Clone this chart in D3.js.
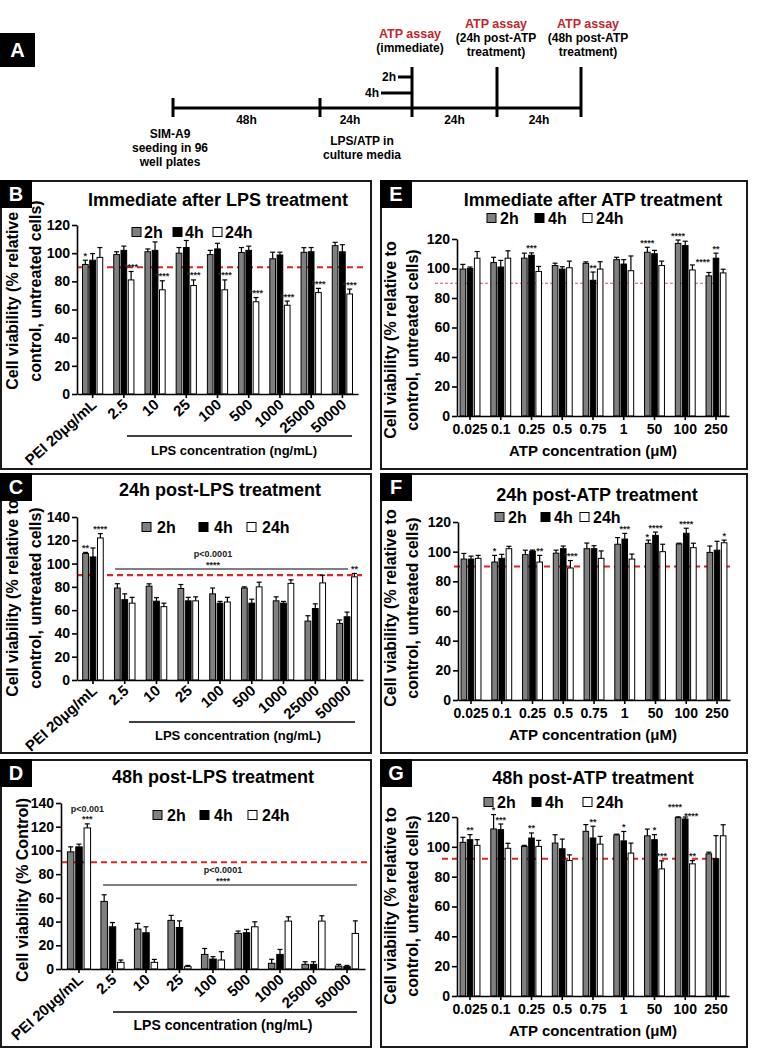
<!DOCTYPE html>
<html>
<head>
<meta charset="utf-8">
<script src="https://cdn.jsdelivr.net/npm/d3@7"></script>
<style>
  body { margin: 0; background: #fff; }
  svg text { font-family: Arial, "Liberation Sans", sans-serif; font-weight: bold; fill: #000; }
</style>
</head>
<body>
<script>
// ---------- data ----------
var lpsDoses = ["PEI 20\u03bcg/mL", "2.5", "10", "25", "100", "500", "1000", "25000", "50000"];
var atpDoses = ["0.025", "0.1", "0.25", "0.5", "0.75", "1", "50", "100", "250"];
var times = ["2h", "4h", "24h"];

// rows = dose, columns = 2h, 4h, 24h
var bMean = [[92, 95, 97], [99, 102, 81], [101, 102, 74], [100, 104, 77], [99, 103, 74], [100.5, 102, 65.5], [96, 98.7, 63], [100.6, 101, 72], [105.3, 101, 71]];
var bErr  = [[3, 4.7, 7], [2, 3, 6], [2, 6, 6.4], [4, 5, 4], [3, 4, 7], [3.5, 3, 3], [4.7, 2, 3], [3.3, 3, 3], [2.4, 5, 3.5]];
var bSig  = [["*", "", ""], ["", "", "****"], ["", "", "****"], ["", "", "****"], ["", "", "****"], ["", "", "****"], ["", "", "****"], ["", "", "****"], ["", "", "****"]];

var cMean = [[108.6, 105.7, 122], [79, 69, 66], [80.6, 67.7, 63], [78.6, 68, 68], [74, 66, 67], [79, 66, 80], [68, 66, 83], [50.6, 61.4, 83.4], [48.6, 54.3, 88.6]];
var cErr  = [[1, 7.7, 3.7], [3.7, 5, 5], [2, 3, 3], [3.4, 3, 3.4], [5, 1.5, 4], [1, 3.4, 4], [3.4, 1.5, 3], [4.6, 4, 6.6], [3, 4, 2.9]];
var cSig  = [["**", "", "****"], ["", "", ""], ["", "", ""], ["", "", ""], ["", "", ""], ["", "", ""], ["", "", ""], ["", "", ""], ["", "", "**"]];

var dMean = [[98.8, 103, 119], [57, 35.6, 5.6], [33.7, 30.6, 5.6], [41, 35, 2], [12.3, 8.4, 7.6], [30, 30.6, 35.6], [4.8, 12.3, 40.4], [3.9, 3.9, 40.4], [2.5, 2, 30]];
var dErr  = [[4.2, 2.3, 3.4], [5.6, 3.6, 2], [4.8, 5, 2.5], [4.2, 5.6, 1], [5, 2, 7], [2, 2.8, 4.2], [3.4, 4.2, 3.6], [2.2, 2.2, 4.5], [1.4, 1, 10.6]];
var dSig  = [["", "", "***"], ["", "", ""], ["", "", ""], ["", "", ""], ["", "", ""], ["", "", ""], ["", "", ""], ["", "", ""], ["", "", ""]];

var eMean = [[99.6, 100, 107], [104, 101, 107], [107, 109, 98], [102, 99.6, 100.5], [103.5, 92, 99.6], [106, 103, 98.5], [111, 110, 102], [117, 115.5, 99], [95, 107, 97]];
var eErr  = [[3.2, 1, 4.5], [3.6, 4.5, 5], [3.4, 1.6, 3.4], [1.6, 1.6, 4.5], [1, 5.6, 5], [1.6, 3, 10], [3.4, 2.3, 3], [2.3, 3, 3.4], [2.3, 3.4, 2.5]];
var eSig  = [["", "", ""], ["", "", ""], ["", "***", ""], ["", "", ""], ["", "**", ""], ["", "", ""], ["****", "", ""], ["****", "", ""], ["****", "**", ""]];

var fMean = [[95, 95, 95.5], [93, 95.5, 102], [98, 100.4, 93], [99, 102, 89], [102, 102, 95.5], [105, 108.5, 95], [105.6, 111, 100], [105.2, 112.4, 102.7], [99.5, 101, 106]];
var fErr  = [[3.8, 2, 2], [4.5, 2.7, 1.6], [3, 0.7, 4.5], [2, 1.8, 5], [3.8, 2, 5], [4.5, 3.8, 3.4], [2.2, 2.2, 5], [0.5, 3.4, 3], [4.3, 6, 1.8]];
var fSig  = [["", "", ""], ["*", "", ""], ["", "", "**"], ["", "", "****"], ["", "", ""], ["", "***", ""], ["*", "****", ""], ["", "****", ""], ["", "", "*"]];

var gMean = [[103, 104.8, 101], [112, 111.5, 99], [100.3, 105.9, 100.3], [102.5, 98.7, 90.8], [110.4, 105.9, 101.8], [108, 104, 95.8], [107.4, 104.8, 85.2], [119.6, 118.7, 88.6], [95.3, 92, 107.4]];
var gErr  = [[3.4, 3.4, 3.8], [9.6, 3.8, 3.4], [0.7, 3.4, 4], [5.6, 6.5, 3.8], [4.5, 7.9, 5.2], [0.5, 6.3, 6.7], [4.5, 3.4, 5.4], [0.5, 1.3, 2.2], [1.1, 15.5, 7.4]];
var gSig  = [["", "**", ""], ["*", "***", ""], ["", "**", ""], ["", "", ""], ["", "**", ""], ["", "*", ""], ["", "*", "***"], ["****", "****", "**"], ["", "", ""]];

// timeline (panel A)
var stageHours = [0, 48, 72, 96, 120];
var stageGaps = ["48h", "24h", "24h", "24h"];

var fills = ["#808080", "#000000", "#ffffff"];
var yTitle2 = ["Cell viability (% relative to", "control, untreated cells)"];

var svg = d3.select("body").append("svg").attr("width", 758).attr("height", 1049);

// ---------- panel A: timeline ----------
function drawTimeline() {
  var g = svg.append("g");
  var hx = d3.scaleLinear().domain(stageHours).range([173, 320, 412, 497, 581]);
  var lineY = 108;
  g.append("rect").attr("x", 0).attr("y", 33).attr("width", 35).attr("height", 34).attr("fill", "#000");
  g.append("text").attr("x", 17.5).attr("y", 57).attr("text-anchor", "middle").attr("font-size", 20).style("fill", "#fff").text("A");

  g.append("line").attr("x1", hx(0)).attr("x2", hx(120)).attr("y1", lineY).attr("y2", lineY)
    .attr("stroke", "#000").attr("stroke-width", 3);
  stageHours.forEach(function (h, i) {
    g.append("line").attr("x1", hx(h)).attr("x2", hx(h))
      .attr("y1", i < 2 ? 98 : 67).attr("y2", 117)
      .attr("stroke", "#000").attr("stroke-width", 3);
  });
  stageGaps.forEach(function (t, i) {
    var mid = (hx(stageHours[i]) + hx(stageHours[i + 1])) / 2 + (i == 1 ? -16 : 0);
    g.append("text").attr("x", mid).attr("y", 124).attr("text-anchor", "middle").attr("font-size", 12).text(t);
  });
  // 2h / 4h branches before the immediate assay
  [["2h", 14, 77], ["4h", 31, 93]].forEach(function (b) {
    g.append("line").attr("x1", hx(72) - b[1]).attr("x2", hx(72)).attr("y1", b[2]).attr("y2", b[2])
      .attr("stroke", "#000").attr("stroke-width", 3);
    g.append("text").attr("x", hx(72) - b[1] - 2).attr("y", b[2]).attr("dy", "0.35em")
      .attr("text-anchor", "end").attr("font-size", 12).text(b[0]);
  });
  var assays = [[72, -2, ["(immediate)"], 34], [96, -1, ["(24h post-ATP", "treatment)"], 24], [120, 7, ["(48h post-ATP", "treatment)"], 24]];
  assays.forEach(function (a) {
    var cx = hx(a[0]) + a[1];
    g.append("text").attr("x", cx).attr("y", a[3]).attr("dy", "0.35em").attr("text-anchor", "middle")
      .attr("font-size", 12.5).style("fill", "#c0262d").text("ATP assay");
    a[2].forEach(function (t, k) {
      g.append("text").attr("x", cx).attr("y", a[3] + 14 * (k + 1)).attr("dy", "0.35em")
        .attr("text-anchor", "middle").attr("font-size", 12).text(t);
    });
  });
  ["SIM-A9", "seeding in 96", "well plates"].forEach(function (t, k) {
    g.append("text").attr("x", 170).attr("y", 134 + 14 * k).attr("dy", "0.35em").attr("text-anchor", "middle").attr("font-size", 12).text(t);
  });
  ["LPS/ATP in", "culture media"].forEach(function (t, k) {
    g.append("text").attr("x", 362).attr("y", 141 + 14 * k).attr("dy", "0.35em").attr("text-anchor", "middle").attr("font-size", 12).text(t);
  });
}

// ---------- bar panels ----------
function styleAxis(sel, size) {
  sel.attr("font-family", null).attr("font-size", size);
  sel.select(".domain").attr("stroke", "#000").attr("stroke-width", 1.6);
  sel.selectAll(".tick line").attr("stroke", "#000").attr("stroke-width", 1.6);
}

function drawPanel(p) {
  var f = p.frame;
  var g = svg.append("g");
  g.append("rect").attr("x", f[0] + 1).attr("y", f[1] + 1).attr("width", f[2] - f[0] - 2).attr("height", f[3] - f[1] - 2)
    .attr("fill", "none").attr("stroke", "#1a1a1a").attr("stroke-width", 2);
  g.append("text").attr("x", p.title[0]).attr("y", p.title[1]).attr("dy", "0.35em").attr("text-anchor", "middle")
    .attr("font-size", 18).text(p.title[2]);

  var x = d3.scaleBand().domain(p.cats).range(p.xr).paddingInner(p.pin).paddingOuter(p.pout);
  var xs = d3.scaleBand().domain(times).range([0, x.bandwidth()]).padding(0.22);
  var y = d3.scaleLinear().domain([0, p.ymax]).range(p.yr);

  // legend
  times.forEach(function (t, j) {
    g.append("rect").attr("x", p.legend.xs[j]).attr("y", p.legend.y - 4.5).attr("width", 9).attr("height", 9)
      .attr("fill", fills[j]).attr("stroke", "#000").attr("stroke-width", 1);
    g.append("text").attr("x", p.legend.xs[j] + p.legend.gap).attr("y", p.legend.y).attr("dy", "0.36em")
      .attr("font-size", 16).text(t);
  });

  // y title
  p.ytitle.lines.forEach(function (t, k) {
    g.append("text").attr("transform", "translate(" + p.ytitle.xs[k] + "," + p.ytitle.cy + ") rotate(-90)")
      .attr("text-anchor", "middle").attr("dy", "0.35em").attr("font-size", 16).text(t);
  });

  // reference line
  g.append("line").attr("x1", p.ref.x1).attr("x2", p.ref.x2).attr("y1", y(p.ref.v)).attr("y2", y(p.ref.v))
    .attr("stroke", p.ref.color || "#e02424").attr("stroke-width", p.ref.w).attr("stroke-dasharray", p.ref.dash);

  var nudge = {};
  (p.nudge || []).forEach(function (n) { nudge[n[0] + "," + n[1]] = [n[2], n[3]]; });

  // bars
  p.cats.forEach(function (c, i) {
    times.forEach(function (t, j) {
      var m = p.mean[i][j], e = p.err[i][j];
      var bx = x(c) + xs(t), bw = xs.bandwidth(), cx = bx + bw / 2;
      g.append("line").attr("x1", cx).attr("x2", cx).attr("y1", y(m)).attr("y2", y(m + e))
        .attr("stroke", "#000").attr("stroke-width", 1.2);
      g.append("line").attr("x1", cx - 2.5).attr("x2", cx + 2.5).attr("y1", y(m + e)).attr("y2", y(m + e))
        .attr("stroke", "#000").attr("stroke-width", 1.2);
      g.append("rect").attr("x", bx).attr("y", y(m)).attr("width", bw).attr("height", y(0) - y(m))
        .attr("fill", fills[j]).attr("stroke", "#000").attr("stroke-width", 1);
      if (p.sig[i][j]) {
        var nd = nudge[i + "," + j] || [0, 0];
        g.append("text").attr("x", cx + nd[0]).attr("y", y(m + e) - 1.5 + nd[1]).attr("text-anchor", "middle")
          .attr("font-size", 9).style("fill", "#222").text(p.sig[i][j]);
      }
    });
  });
  (p.notes || []).forEach(function (n) {
    var c = p.cats[n[1]], t = times[n[2]];
    var cx = x(c) + xs(t) + xs.bandwidth() / 2;
    g.append("text").attr("x", cx).attr("y", y(p.mean[n[1]][n[2]] + p.err[n[1]][n[2]]) + n[3])
      .attr("text-anchor", "middle").attr("font-size", 9).style("fill", "#222").text(n[0]);
  });

  // axes
  var ya = g.append("g").attr("transform", "translate(" + p.xr[0] + ",0)")
    .call(d3.axisLeft(y).tickValues(d3.range(0, p.ymax + 1, 20)).tickSize(5).tickSizeOuter(0).tickPadding(2));
  styleAxis(ya, 14);
  var xa = g.append("g").attr("transform", "translate(0," + p.yr[0] + ")")
    .call(d3.axisBottom(x).tickSize(4).tickSizeOuter(0).tickPadding(4));
  if (p.rotate) {
    styleAxis(xa, 15);
    xa.selectAll(".tick text").attr("x", 0).attr("y", 0).attr("dy", 0)
      .attr("text-anchor", "end").attr("transform", "translate(5,12) rotate(-42)");
  } else {
    styleAxis(xa, 14);
  }

  // significance bracket
  if (p.bracket) {
    var b = p.bracket;
    g.append("line").attr("x1", b.x1).attr("x2", b.x2).attr("y1", b.y).attr("y2", b.y).attr("stroke", "#000").attr("stroke-width", 1.2);
    g.append("text").attr("x", b.tx).attr("y", b.y - 12).attr("text-anchor", "middle").attr("font-size", 9).style("fill", "#222").text("p<0.0001");
    g.append("text").attr("x", b.tx).attr("y", b.y - 1.5).attr("text-anchor", "middle").attr("font-size", 9).style("fill", "#222").text("****");
  }

  // x title
  if (p.xline) {
    g.append("line").attr("x1", p.xline[0]).attr("x2", p.xline[1]).attr("y1", p.xline[2]).attr("y2", p.xline[2])
      .attr("stroke", "#000").attr("stroke-width", 1.3);
  }
  g.append("text").attr("x", p.xtitle[1]).attr("y", p.xtitle[2]).attr("dy", "0.35em").attr("text-anchor", "middle")
    .attr("font-size", p.xtitle[3]).text(p.xtitle[0]);

  // panel letter box drawn last so it sits on top
  g.append("rect").attr("x", f[0]).attr("y", f[1]).attr("width", 32).attr("height", 28).attr("fill", "#000");
  g.append("text").attr("x", f[0] + 16).attr("y", f[1] + 21).attr("text-anchor", "middle").attr("font-size", 20)
    .style("fill", "#fff").text(p.letter);
}

drawTimeline();

drawPanel({
  letter: "B", frame: [0, 180, 372, 470], title: [218, 200, "Immediate after LPS treatment"],
  cats: lpsDoses, mean: bMean, err: bErr, sig: bSig,
  xr: [77, 358], pin: 0.25, pout: 0.125, ymax: 120, yr: [394, 225], rotate: true,
  legend: { y: 232, xs: [132, 173, 213], gap: 12 },
  ytitle: { lines: yTitle2, xs: [12, 35], cy: 291 },
  xline: [127, 352, 436], xtitle: ["LPS concentration (ng/mL)", 234, 450, 13],
  ref: { v: 90, x1: 77, x2: 363, w: 2, dash: "6,4" }
});

drawPanel({
  letter: "C", frame: [0, 473, 372, 754], title: [220, 490, "24h post-LPS treatment"],
  cats: lpsDoses, mean: cMean, err: cErr, sig: cSig,
  xr: [77, 363], pin: 0.25, pout: 0.128, ymax: 140, yr: [680, 517], rotate: true,
  legend: { y: 527, xs: [142, 199, 247], gap: 15 },
  ytitle: { lines: yTitle2, xs: [12, 35], cy: 598 },
  xline: [129, 355, 722], xtitle: ["LPS concentration (ng/mL)", 238, 735, 13],
  ref: { v: 90, x1: 77, x2: 362, w: 2.2, dash: "6,4" },
  bracket: { x1: 115, x2: 348, y: 569, tx: 213 }
});

drawPanel({
  letter: "D", frame: [0, 759, 372, 1048], title: [213, 777, "48h post-LPS treatment"],
  cats: lpsDoses, mean: dMean, err: dErr, sig: dSig,
  xr: [61, 365], pin: 0.2, pout: 0.137, ymax: 140, yr: [969, 803], rotate: true,
  legend: { y: 815, xs: [153, 200, 248], gap: 14 },
  ytitle: { lines: ["Cell viability (% Control)"], xs: [22], cy: 890 },
  xline: [113, 357, 1012], xtitle: ["LPS concentration (ng/mL)", 223, 1025, 14],
  ref: { v: 90, x1: 61, x2: 370, w: 2, dash: "6,4" },
  bracket: { x1: 103, x2: 357, y: 885, tx: 223 },
  notes: [["p<0.001", 0, 2, -12]]
});

drawPanel({
  letter: "E", frame: [380, 180, 748, 470], title: [593, 200, "Immediate after ATP treatment"],
  cats: atpDoses, mean: eMean, err: eErr, sig: eSig,
  xr: [457, 729], pin: 0.25, pout: 0.048, ymax: 120, yr: [416, 239], rotate: false,
  legend: { y: 218, xs: [487, 535, 583], gap: 13 },
  ytitle: { lines: yTitle2, xs: [390, 412], cy: 340 },
  xtitle: ["ATP concentration (\u03bcM)", 593, 451, 15],
  ref: { v: 90, x1: 435, x2: 723, w: 1.2, dash: "3,2", color: "#d05a5a" },
  nudge: [[8, 0, -6, -6]]
});

drawPanel({
  letter: "F", frame: [380, 473, 748, 754], title: [597, 495, "24h post-ATP treatment"],
  cats: atpDoses, mean: fMean, err: fErr, sig: fSig,
  xr: [458, 730], pin: 0.25, pout: 0.048, ymax: 120, yr: [700, 522], rotate: false,
  legend: { y: 517, xs: [495, 541, 580], gap: 13 },
  ytitle: { lines: yTitle2, xs: [390, 412], cy: 608 },
  xtitle: ["ATP concentration (\u03bcM)", 593, 735, 15],
  ref: { v: 90, x1: 454, x2: 730, w: 1.8, dash: "6,4" },
  nudge: [[6, 0, -1, 1]]
});

drawPanel({
  letter: "G", frame: [380, 759, 748, 1048], title: [593, 778, "48h post-ATP treatment"],
  cats: atpDoses, mean: gMean, err: gErr, sig: gSig,
  xr: [457, 729], pin: 0.25, pout: 0.048, ymax: 120, yr: [996, 817], rotate: false,
  legend: { y: 802, xs: [484, 532, 583], gap: 13 },
  ytitle: { lines: yTitle2, xs: [390, 412], cy: 906 },
  xtitle: ["ATP concentration (\u03bcM)", 593, 1031, 15],
  ref: { v: 92, x1: 442, x2: 723, w: 2, dash: "6,4" },
  nudge: [[7, 0, -3, -5], [7, 1, 6, 3]]
});
</script>
</body>
</html>
